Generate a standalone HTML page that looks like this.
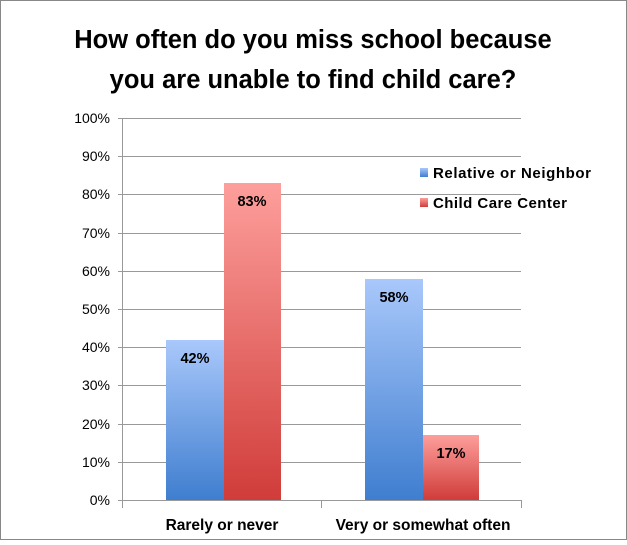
<!DOCTYPE html>
<html><head><style>
body{margin:0;background:#fff;}
svg text{font-family:"Liberation Sans",sans-serif;}
</style></head><body>
<svg width="627" height="540" xmlns="http://www.w3.org/2000/svg">
<defs>
<linearGradient id="b" x1="0" y1="0" x2="0" y2="1"><stop offset="0" stop-color="#a9c8fb"/><stop offset="1" stop-color="#3f7ecf"/></linearGradient>
<linearGradient id="r" x1="0" y1="0" x2="0" y2="1"><stop offset="0" stop-color="#fd9f9c"/><stop offset="1" stop-color="#d03c39"/></linearGradient>
</defs>
<rect x="0.5" y="0.5" width="626" height="539" fill="#fff" stroke="#888"/>
<text x="313" y="48" font-size="25.5" font-weight="bold" text-anchor="middle" fill="#000">How often do you miss school because</text>
<text x="313" y="88" font-size="25.5" font-weight="bold" text-anchor="middle" fill="#000">you are unable to find child care?</text>
<g stroke="#999" stroke-width="1">
<line x1="118" y1="118.5" x2="521" y2="118.5"/>
<line x1="118" y1="156.5" x2="521" y2="156.5"/>
<line x1="118" y1="194.5" x2="521" y2="194.5"/>
<line x1="118" y1="233.5" x2="521" y2="233.5"/>
<line x1="118" y1="271.5" x2="521" y2="271.5"/>
<line x1="118" y1="309.5" x2="521" y2="309.5"/>
<line x1="118" y1="347.5" x2="521" y2="347.5"/>
<line x1="118" y1="385.5" x2="521" y2="385.5"/>
<line x1="118" y1="424.5" x2="521" y2="424.5"/>
<line x1="118" y1="462.5" x2="521" y2="462.5"/>
<line x1="118" y1="500.5" x2="521" y2="500.5"/>
<line x1="122.5" y1="118" x2="122.5" y2="508"/>
<line x1="321.5" y1="500" x2="321.5" y2="508"/>
<line x1="521.5" y1="500" x2="521.5" y2="508"/>
</g>
<g font-size="14" text-anchor="end" fill="#000">
<text x="110" y="123">100%</text><text x="110" y="161">90%</text><text x="110" y="199">80%</text><text x="110" y="238">70%</text><text x="110" y="276">60%</text><text x="110" y="314">50%</text><text x="110" y="352">40%</text><text x="110" y="390">30%</text><text x="110" y="429">20%</text><text x="110" y="467">10%</text><text x="110" y="505">0%</text>
</g>
<rect x="166" y="340" width="58" height="160" fill="url(#b)"/>
<rect x="224" y="183" width="57" height="317" fill="url(#r)"/>
<rect x="365" y="279" width="58" height="221" fill="url(#b)"/>
<rect x="423" y="435" width="56" height="65" fill="url(#r)"/>
<g font-size="14.5" font-weight="bold" text-anchor="middle" fill="#000">
<text x="195" y="363">42%</text><text x="252" y="206">83%</text><text x="394" y="302">58%</text><text x="451" y="458">17%</text>
</g>
<g font-size="15.5" font-weight="bold" text-anchor="middle" fill="#000">
<text x="222" y="530">Rarely or never</text><text x="423" y="530">Very or somewhat often</text>
</g>
<rect x="420" y="168" width="8" height="9" fill="url(#b)"/>
<rect x="420" y="198" width="8" height="9" fill="url(#r)"/>
<g font-size="15" font-weight="bold" fill="#000">
<text x="433" y="178" textLength="158">Relative or Neighbor</text>
<text x="433" y="208" textLength="134">Child Care Center</text>
</g>
</svg>
</body></html>
